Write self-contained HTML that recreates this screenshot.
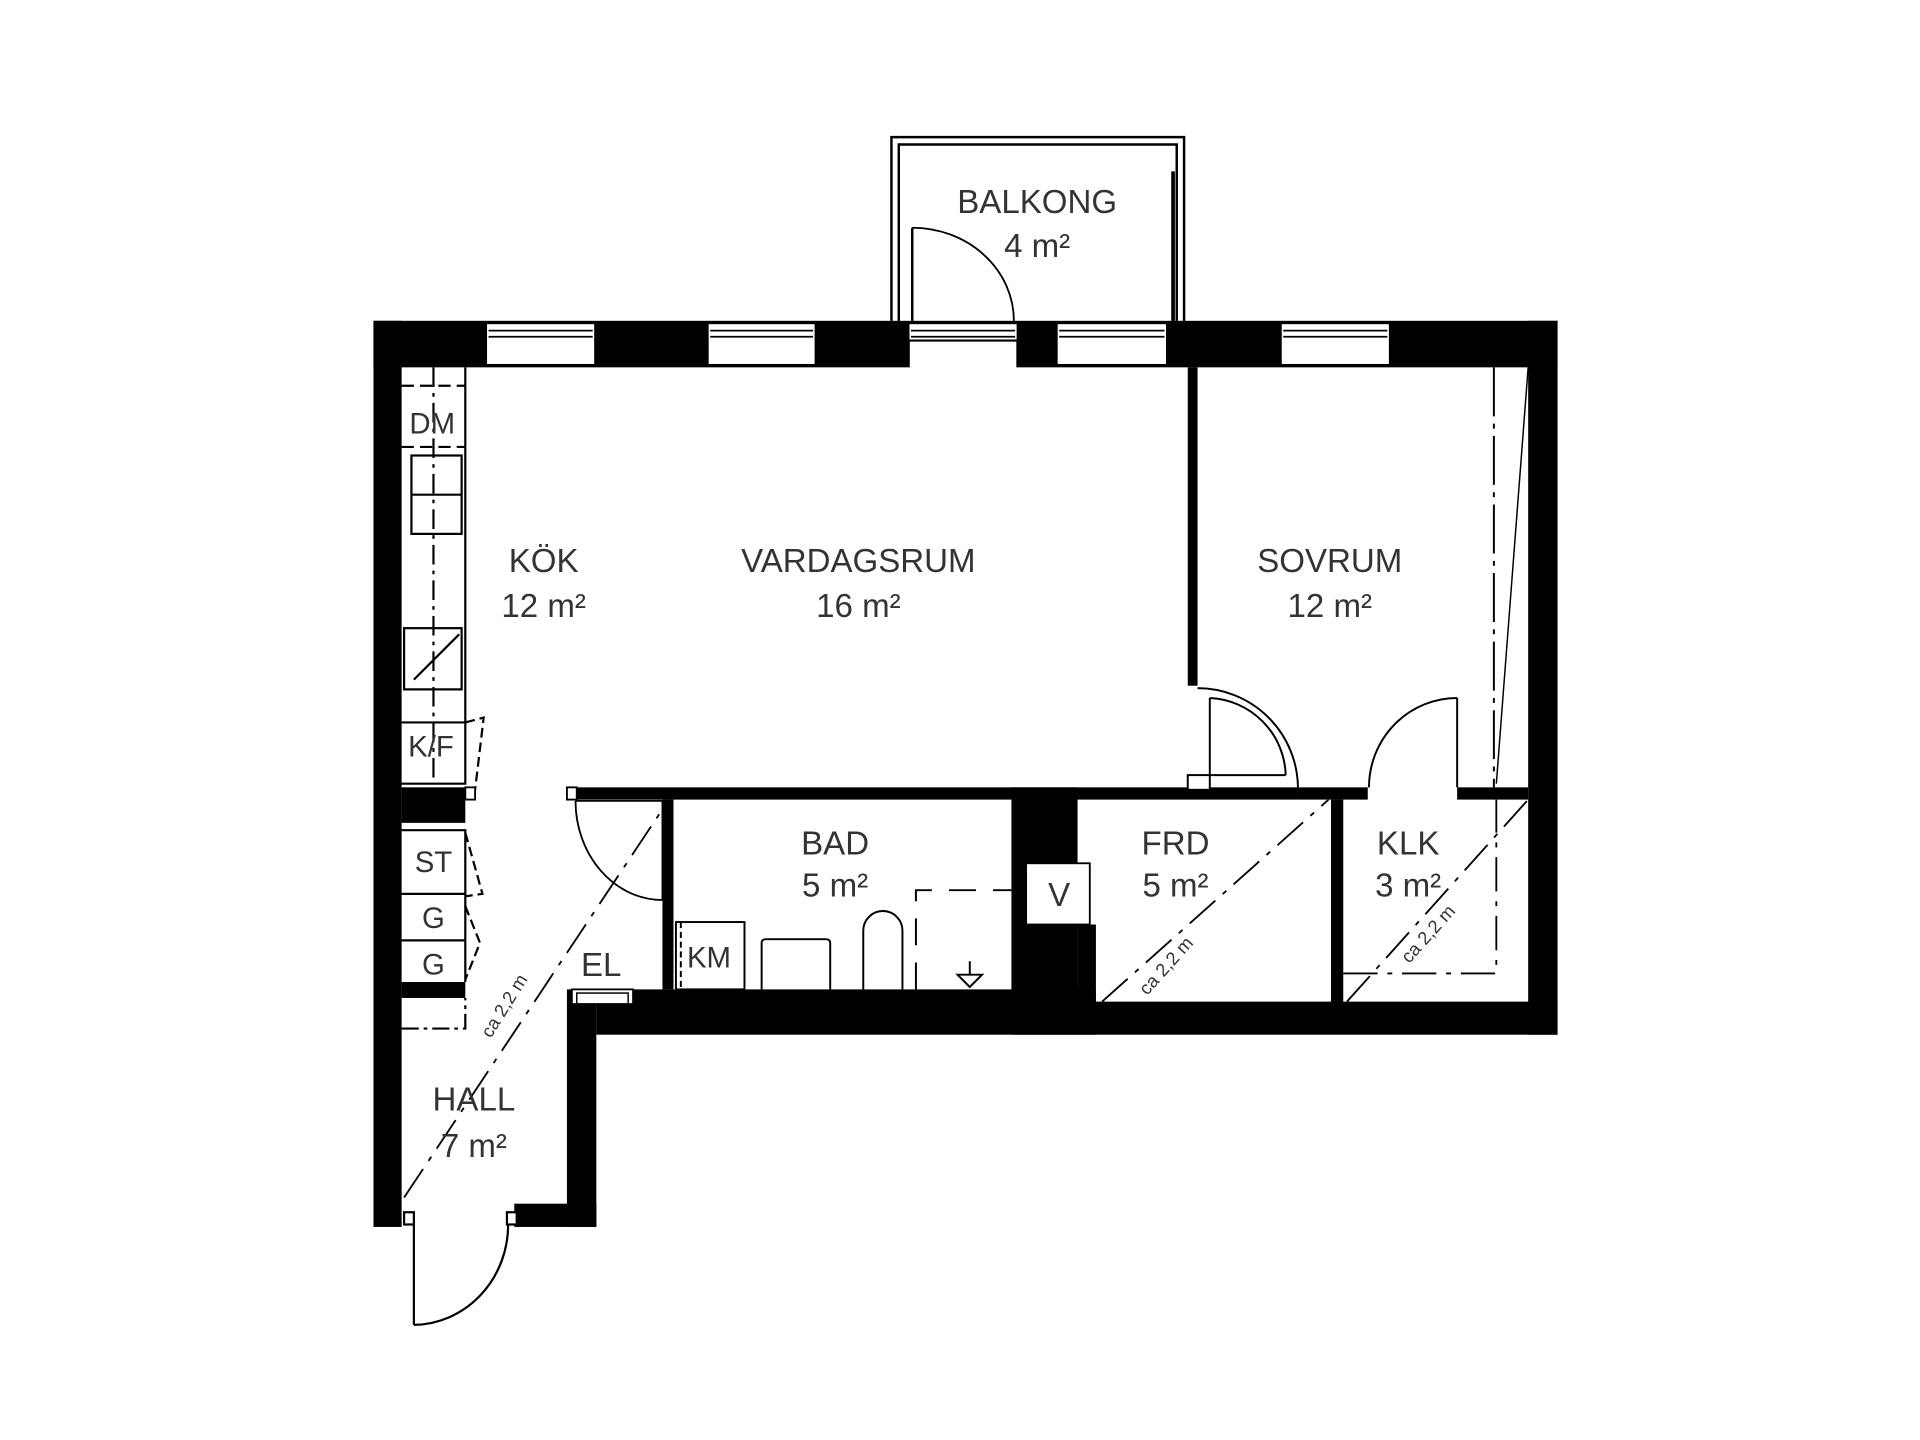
<!DOCTYPE html>
<html><head><meta charset="utf-8"><style>
html,body{margin:0;padding:0;background:#fff;}
svg{display:block}
text{font-family:"Liberation Sans",sans-serif;fill:#333;text-anchor:middle}
</style></head><body>
<svg width="1920" height="1440" viewBox="0 0 1568 1176" preserveAspectRatio="none" xmlns="http://www.w3.org/2000/svg">
<rect width="1568" height="1176" fill="#fff"/>
<!-- balcony -->
<g fill="none" stroke="#000" stroke-width="2">
<path d="M728 262 V112 H967 V262"/>
<path d="M734 262 V118 H961 V262"/>
<path d="M958 140 V262" stroke-width="3"/>
<path d="M745 186 V262"/>
<path d="M745 186 A83 76 0 0 1 828 262" stroke-width="1.5"/>
</g>
<!-- top wall -->
<rect x="305" y="262" width="967" height="38" fill="#000"/>
<g fill="#fff" stroke="#000" stroke-width="1.5">
<rect x="397" y="264" width="89" height="34"/>
<rect x="578" y="264" width="88" height="34"/>
<rect x="742" y="264" width="89" height="14"/>
<rect x="863" y="264" width="90" height="34"/>
<rect x="1046" y="264" width="89" height="34"/>
</g>
<rect x="743" y="279" width="87" height="22" fill="#fff"/>
<g stroke="#000" stroke-width="1.5">
<path d="M399 270H484M399 275H484M580 270H664M580 275H664M744 270H829M744 275H829M865 270H951M865 275H951M1048 270H1133M1048 275H1133"/>
</g>
<!-- left wall -->
<rect x="305" y="262" width="23" height="740" fill="#000"/>
<!-- right wall and bottom -->
<rect x="1248" y="262" width="24" height="583" fill="#000"/>
<rect x="487" y="808" width="408" height="37" fill="#000"/>
<rect x="895" y="818" width="377" height="27" fill="#000"/>
<rect x="463" y="808" width="24" height="194" fill="#000"/>
<rect x="420" y="983" width="67" height="19" fill="#000"/>
<!-- entry door -->
<g fill="none" stroke="#000" stroke-width="1.8">
<path d="M338 1000 V1082"/>
<path d="M338 1082 A78 82 0 0 0 415 1000"/>
<rect x="330" y="990" width="8" height="10" fill="#fff"/>
<rect x="414" y="990" width="8" height="10" fill="#fff"/>
</g>
<!-- kitchen counter -->
<g fill="none" stroke="#000" stroke-width="1.8">
<path d="M380 300 V640 H328"/>
<path d="M328 315 H380 M328 365 H380" stroke-dasharray="10 5"/>
<path d="M354 300 V640" stroke-dasharray="16 5 3 5"/>
<rect x="336" y="372" width="41" height="64"/>
<path d="M336 404 H377"/>
<rect x="330" y="513" width="47" height="50"/>
<path d="M338 555 L375 518"/>
<path d="M328 590 H380"/>
<path d="M380 590 L395 586 L388 645" stroke-dasharray="8 4"/>
</g>
<rect x="328" y="643" width="52" height="29" fill="#000"/>
<rect x="380" y="643" width="8" height="10" fill="#fff" stroke="#000" stroke-width="1.5"/>
<!-- ST G G -->
<g fill="none" stroke="#000" stroke-width="1.8">
<path d="M328 678 H380 V802 M328 730 H380 M328 768 H380"/>
<path d="M380 680 L394 730 L380 732 M380 740 L392 770 L380 800" stroke-dasharray="8 4"/>
<path d="M328 840 H380 V815" stroke-dasharray="14 4 3 4"/>
</g>
<rect x="328" y="802" width="52" height="13" fill="#000"/>
<!-- interior walls -->
<rect x="463" y="643" width="597" height="10" fill="#000"/>
<rect x="463" y="643" width="8" height="10" fill="#fff" stroke="#000" stroke-width="1.5"/>
<rect x="541" y="653" width="9" height="155" fill="#000"/>
<g fill="none" stroke="#000" stroke-width="1.5">
<path d="M470 654 H541 M541 654 V735 M546 654 V735"/>
<path d="M470 654 A71 81 0 0 0 541 735"/>
</g>
<rect x="1060" y="643" width="57" height="10" fill="#000"/>
<rect x="1190" y="643" width="58" height="10" fill="#000"/>
<rect x="1087" y="653" width="10" height="167" fill="#000"/>
<!-- shaft -->
<rect x="826" y="643" width="54" height="202" fill="#000"/>
<rect x="880" y="755" width="15" height="90" fill="#000"/>
<rect x="838" y="705" width="52" height="50" fill="#fff" stroke="#000" stroke-width="1.5"/>
<!-- sovrum wall -->
<rect x="970" y="300" width="8" height="260" fill="#000"/>
<g fill="none" stroke="#000" stroke-width="1.6">
<path d="M988 570 V633 H1050"/>
<path d="M978 562 A82 82 0 0 1 1060 643"/>
<path d="M988 570 A65 65 0 0 1 1050 633"/>
<rect x="970" y="633" width="18" height="12" fill="#fff"/>
<path d="M1190 570 V643"/>
<path d="M1190 570 A72 73 0 0 0 1118 643"/>
<path d="M1220 300 V643" stroke-dasharray="40 6 4 6"/>
<path d="M1248 300 L1222 640" stroke-width="1.2"/>
</g>
<!-- diagonals -->
<g fill="none" stroke="#000" stroke-width="1.5" stroke-dasharray="28 8 4 8">
<path d="M330 978 L545 655"/>
<path d="M900 818 L1085 653"/>
<path d="M1100 818 L1248 653"/>
<path d="M1097 795 H1222 V653"/>
</g>
<!-- bath fixtures -->
<g fill="none" stroke="#000" stroke-width="1.6">
<rect x="552" y="753" width="56" height="55"/>
<path d="M556 753 V808" stroke-dasharray="5 3"/>
<path d="M622 808 V770 Q622 767 626 767 H674 Q678 767 678 770 V808"/>
<path d="M705 808 V760 A16 16 0 0 1 737 760 V808"/>
<path d="M748 808 V727 H826" stroke-dasharray="22 14"/>
<path d="M782 796 H802 L792 806 Z M792 785 V796"/>
</g>
<rect x="467" y="808" width="50" height="12" fill="#fff" stroke="#000" stroke-width="1.5"/>
<rect x="471" y="811" width="42" height="9" fill="none" stroke="#000" stroke-width="1.2"/>
<!-- labels -->
<g font-size="27">
<text x="847" y="174">BALKONG</text><text x="847" y="210">4 m²</text>
<text x="444" y="467">KÖK</text><text x="444" y="504">12 m²</text>
<text x="701" y="467">VARDAGSRUM</text><text x="701" y="504">16 m²</text>
<text x="1086" y="467">SOVRUM</text><text x="1086" y="504">12 m²</text>
<text x="682" y="698">BAD</text><text x="682" y="732">5 m²</text>
<text x="960" y="698">FRD</text><text x="960" y="732">5 m²</text>
<text x="1150" y="698">KLK</text><text x="1150" y="732">3 m²</text>
<text x="387" y="907">HALL</text><text x="387" y="945">7 m²</text>
<text x="491" y="797">EL</text>
<text x="865" y="740">V</text>
</g>
<g font-size="24">
<text x="353" y="354">DM</text>
<text x="352" y="618">K/F</text>
<text x="354" y="712">ST</text>
<text x="354" y="758">G</text>
<text x="354" y="796">G</text>
<text x="579" y="790">KM</text>
</g>
<g font-size="15">
<text transform="translate(416,824) rotate(-58)">ca 2,2 m</text>
<text transform="translate(956,792) rotate(-48)">ca 2,2 m</text>
<text transform="translate(1170,766) rotate(-48)">ca 2,2 m</text>
</g>
</svg>
</body></html>
